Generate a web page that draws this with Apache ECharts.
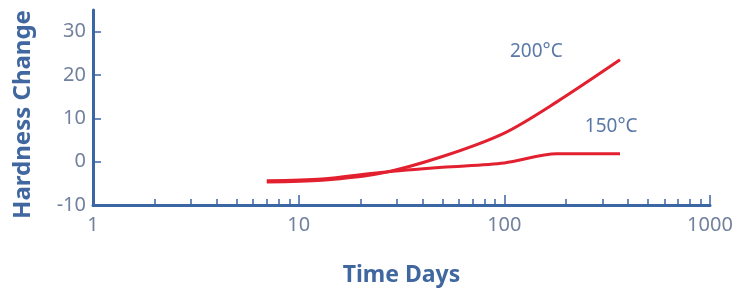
<!DOCTYPE html>
<html>
<head>
<meta charset="utf-8">
<script src="https://cdn.jsdelivr.net/npm/echarts@6/dist/echarts.min.js"></script>
<style>
  html, body { margin: 0; padding: 0; background: #fff; }
  #chart { width: 738px; height: 293px; }
</style>
</head>
<body>
<div id="chart"></div>
<script>
// 数据
let days = [7, 13, 25, 50, 100, 180, 365];
let hard150 = [-4.4, -4.0, -2.5, -1.3, -0.3, 1.8, 1.8];
let hard200 = [-4.7, -4.3, -2.7, 1.2, 6.6, 13.8, 23.5];
let majorTicks = [10, 100, 1000];
let minorTicks = [2, 3, 4, 5, 6, 7, 8, 9, 20, 30, 40, 50, 60, 70, 80, 90, 200, 300, 400, 500, 600, 700, 800, 900];
let xLabels = [1, 10, 100, 1000];
let yTicks = [-10, 0, 10, 20, 30];

(function () {
    let myChart = echarts.init(document.getElementById('chart'));
    let axisBlue = '#3a66a4';
    let labelGrey = '#72819e';
    let textBlue = '#5b79a8';
    let font = 'Noto Sans';

    function pairs(ys) {
        return days.map(function (d, i) { return [d, ys[i]]; });
    }

    let lineStyle = { color: '#e2202f', width: 3 };

    // 曲线旁的温度标注
    function tag(text, coord) {
        return {
            symbol: 'circle',
            symbolSize: 1,
            itemStyle: { color: 'rgba(0,0,0,0)' },
            data: [{ coord: coord }],
            label: { show: true, position: 'inside', formatter: text, color: textBlue, fontSize: 19, fontFamily: font }
        };
    }

    let option = {
        animation: false,
        grid: { left: 93, right: 28, top: 10, bottom: 88 },
        xAxis: [
            {
                type: 'log',
                logBase: 10,
                min: 1,
                max: 1000,
                name: 'Time Days',
                nameLocation: 'middle',
                nameGap: 59,
                nameTextStyle: { color: '#40679f', fontSize: 23, fontWeight: 'bold', fontFamily: font },
                axisLine: { onZero: false, lineStyle: { color: axisBlue, width: 3 } },
                axisTick: { inside: true, length: 10, customValues: majorTicks, lineStyle: { color: axisBlue, width: 1.5 } },
                axisLabel: {
                    customValues: xLabels, color: labelGrey, fontSize: 20, fontFamily: font, margin: 10,
                    formatter: function (v) { return String(Math.round(v)); }
                },
                splitLine: { show: false }
            },
            {
                type: 'log',
                logBase: 10,
                min: 1,
                max: 1000,
                position: 'bottom',
                axisLine: { show: false, onZero: false },
                axisTick: { inside: true, length: 6, customValues: minorTicks, lineStyle: { color: axisBlue, width: 1.5 } },
                axisLabel: { show: false },
                splitLine: { show: false }
            }
        ],
        yAxis: {
            type: 'value',
            min: -10,
            max: 35,
            interval: 10,
            name: 'Hardness Change',
            nameLocation: 'middle',
            nameGap: 58,
            nameTextStyle: {
                color: '#40679f', fontSize: 24, fontWeight: 'bold', fontFamily: font,
                padding: [0, 14, 0, 0]
            },
            axisLine: { show: true, onZero: false, lineStyle: { color: axisBlue, width: 3 } },
            axisTick: { show: true, inside: true, length: 8, customValues: yTicks, lineStyle: { color: axisBlue, width: 1.5 } },
            axisLabel: { customValues: yTicks, color: labelGrey, fontSize: 20, fontFamily: font, margin: 7 },
            splitLine: { show: false }
        },
        series: [
            {
                name: '150°C',
                type: 'line',
                smooth: 0.3,
                symbol: 'none',
                data: pairs(hard150),
                lineStyle: lineStyle,
                markPoint: tag('150°C', [331, 8])
            },
            {
                name: '200°C',
                type: 'line',
                smooth: 0.3,
                symbol: 'none',
                data: pairs(hard200),
                lineStyle: lineStyle,
                markPoint: tag('200°C', [143, 25.4])
            }
        ]
    };
    myChart.setOption(option);
})();
</script>
</body>
</html>
